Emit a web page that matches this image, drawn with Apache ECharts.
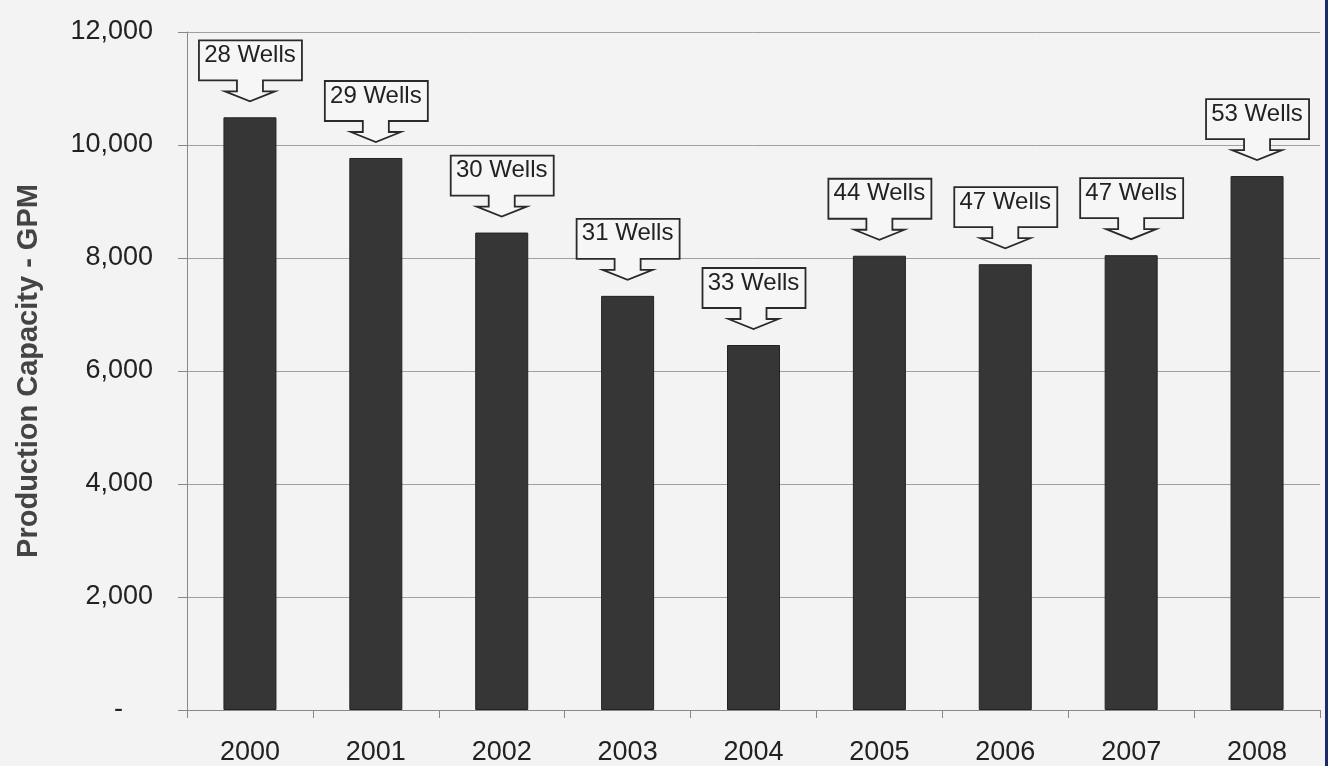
<!DOCTYPE html>
<html>
<head>
<meta charset="utf-8">
<script src="https://cdn.jsdelivr.net/npm/echarts@6/dist/echarts.min.js"></script>
<style>
html,body{margin:0;padding:0;background:#f3f3f3;}
#c{width:1328px;height:766px;}
</style>
</head>
<body>
<div id="c"></div>
<script>
const years = ['2000','2001','2002','2003','2004','2005','2006','2007','2008'];
const capacity = [10490, 9770, 8450, 7330, 6460, 8040, 7890, 8050, 9450];
const wellLabels = ['28 Wells','29 Wells','30 Wells','31 Wells','33 Wells','44 Wells','47 Wells','47 Wells','53 Wells'];
const yTicks = {min: 0, max: 12000, interval: 2000};

const chart = echarts.init(document.getElementById('c'), null, {renderer: 'canvas'});
const FONT = '"Liberation Sans", Arial, sans-serif';

function callout(params, api) {
  const i = api.value(0), v = api.value(1);
  const p = api.coord([i, v]);
  const tx = p[0], ty = p[1] - 16;
  const pts = [[tx-51,ty-61],[tx+52,ty-61],[tx+52,ty-21],[tx+13,ty-21],[tx+13,ty-10],[tx+25,ty-10],
               [tx,ty],[tx-25,ty-10],[tx-13,ty-10],[tx-13,ty-21],[tx-51,ty-21]];
  return {
    type: 'group',
    children: [
      {type: 'polygon', shape: {points: pts}, style: {fill: '#f6f6f6', stroke: '#2a2a2a', lineWidth: 1.8}},
      {type: 'text', style: {text: wellLabels[params.dataIndex], x: tx, y: ty - 46, align: 'center',
        verticalAlign: 'middle', font: '24px ' + FONT, fill: '#222'}}
    ]
  };
}

chart.setOption({
  backgroundColor: '#f3f3f3',
  animation: false,
  grid: {left: 187, right: 8, top: 32, bottom: 56, containLabel: false},
  xAxis: {
    type: 'category',
    data: years,
    axisLine: {lineStyle: {color: '#888', width: 1}},
    axisTick: {show: true, length: 8, lineStyle: {color: '#888'}},
    axisLabel: {color: '#222', fontSize: 27, fontFamily: FONT, margin: 29}
  },
  yAxis: {
    type: 'value',
    min: yTicks.min, max: yTicks.max, interval: yTicks.interval,
    name: 'Production Capacity - GPM',
    nameLocation: 'middle',
    nameGap: 144,
    nameTextStyle: {color: '#444', fontSize: 29, fontWeight: 'bold', fontFamily: FONT},
    axisLine: {show: true, lineStyle: {color: '#888', width: 1}},
    axisTick: {show: true, length: 9, lineStyle: {color: '#888'}},
    splitLine: {show: true, lineStyle: {color: '#a0a0a0', width: 1}},
    axisLabel: {
      color: '#222', fontSize: 27, fontFamily: FONT, margin: 34,
      formatter: function (v) { return v === 0 ? '-    ' : v.toLocaleString('en-US'); }
    }
  },
  series: [
    {
      type: 'bar',
      data: capacity,
      barWidth: 53,
      itemStyle: {color: '#363636', borderColor: '#222', borderWidth: 1}
    },
    {
      type: 'custom',
      data: capacity.map((v, i) => [i, v]),
      encode: {x: 0, y: 1},
      renderItem: callout,
      clip: false,
      z: 5
    }
  ],
  graphic: [
    {type: 'rect', right: 0, top: 0, shape: {width: 3, height: 766}, style: {fill: '#1c2a6e'}}
  ]
});
</script>
</body>
</html>
